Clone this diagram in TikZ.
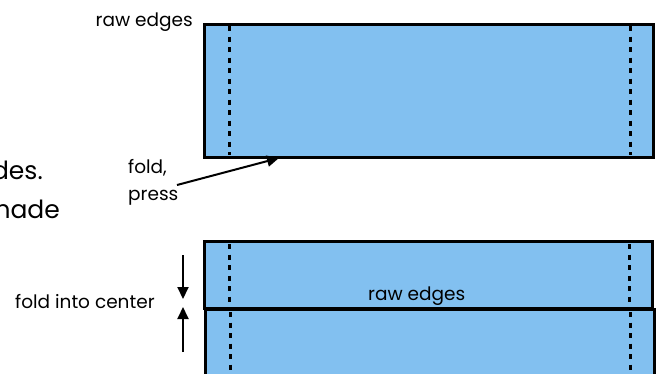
\documentclass[tikz,border=0pt]{standalone}
\usepackage{fontspec}
\setmainfont{Poppins}
\usetikzlibrary{arrows.meta}
\definecolor{clothblue}{HTML}{82C0F0}
\begin{document}
\begin{tikzpicture}[x=1pt,y=-1pt,
  cloth/.style={draw=black, line width=2.5pt, fill=clothblue, rectangle, inner sep=0pt, anchor=north west},
  seam/.style={line width=3pt, dash pattern=on 5pt off 5.5pt},
  lbl/.style={font=\fontsize{18.5}{22}\selectfont, inner sep=0pt, anchor=base west},
  big/.style={font=\fontsize{25}{30}\selectfont, inner sep=0pt, anchor=base east},
  arr/.style={line width=2pt, -{Triangle[length=12pt,width=11pt]}}]
\clip (0,0) rectangle (656,373);
% top panel
\node[cloth, minimum width=449pt, minimum height=133pt] (top) at (203,23) {};
\draw[seam] (229,26) -- (229,155);
\draw[seam] (630,26) -- (630,155);
\node[lbl, anchor=base east] (rawtop) at (193,26) {raw edges};
\node[lbl] (fold) at (128,173) {fold,};
\node[lbl] (press) at (128,200) {press};
\coordinate (pressend) at (177,185);
\coordinate (foldpt) at (279,158);
\draw[arr] (pressend) -- (foldpt);
% cropped large text
\node[big] (des) at (43,179) {des.};
\node[big] (made) at (60,218) {made};
% bottom panel
\node[cloth, minimum width=449pt, minimum height=100pt] (lower) at (204,308) {};
\node[cloth, minimum width=448pt, minimum height=67pt] (upper) at (203,240) {};
\draw[seam] (229,244) -- (229,306);
\draw[seam] (629,244) -- (629,306);
\draw[seam] (230,312) -- (230,373);
\draw[seam] (630,312) -- (630,373);
\node[lbl] (rawmid) at (368,300) {raw edges};
\node[lbl] (center) at (15,308) {fold into center};
\coordinate (dtop) at (183,255);
\coordinate (dtip) at (183,299);
\coordinate (ubot) at (183,352);
\coordinate (utip) at (183,307);
\draw[arr] (dtop) -- (dtip);
\draw[arr] (ubot) -- (utip);
\end{tikzpicture}
\end{document}
